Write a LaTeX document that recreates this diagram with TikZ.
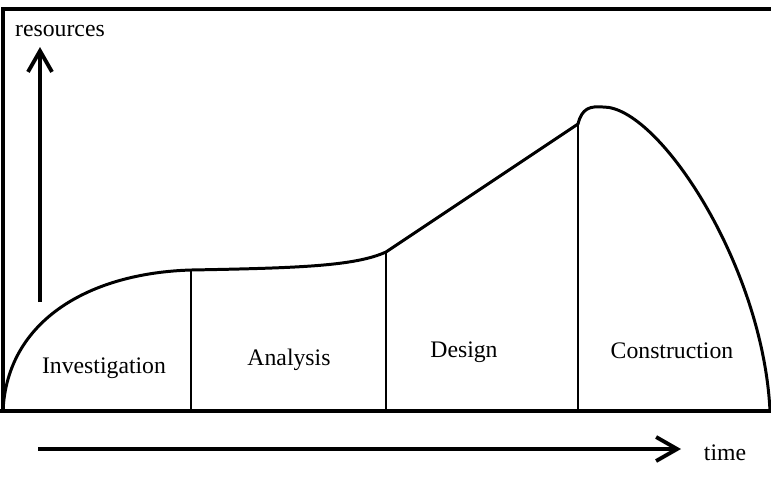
\documentclass[tikz,border=0pt]{standalone}
\usepackage{fontspec}
\setmainfont{Liberation Serif}
\usetikzlibrary{arrows.meta}

\tikzset{
  phase/.style={anchor=base, inner sep=0pt, font=\fontsize{13.5}{16}\selectfont},
  axis/.style={line width=2.2pt, -{Straight Barb[length=4.2mm, width=4.8mm]}},
  divider/.style={line width=1.4pt},
}

\begin{document}
\begin{tikzpicture}[x=0.2mm, y=-0.2mm]
    \useasboundingbox (0,0) rectangle (771,482);

    % Frame
    \draw[line width=2pt] (771,9) -- (3,9) -- (3,411);
    \draw[line width=2pt] (0,411) -- (771,411);

    % Points on the curve
    \coordinate (start) at (3,411);
    \coordinate (inv) at (191,270);
    \coordinate (ana) at (386,252);
    \coordinate (des) at (578,124);
    \coordinate (peak) at (603,107);
    \coordinate (finish) at (770,411);

    % Resource curve
    \draw[line width=1.7pt] (start) .. controls (7,320) and (90,273) .. (inv)
        .. controls (300,268) and (355,266) .. (ana) -- (des)
        .. controls (582,108) and (590,106) .. (peak)
        .. controls (658,106) and (763,265) .. (finish);

    % Phase dividers
    \draw[divider] (inv) -- (inv |- start);
    \draw[divider] (ana) -- (ana |- start);
    \draw[divider] (des) -- (des |- start);

    % Phase labels
    \node[phase] (investigation) at (104,373) {Investigation};
    \node[phase] (analysis) at (289,365) {Analysis};
    \node[phase] (design) at (464,357) {Design};
    \node[phase] (construction) at (672,358) {Construction};

    % Axes
    \coordinate (res0) at (40,302);
    \coordinate (res1) at (40,47);
    \draw[axis] (res0) -- (res1);
    \node[phase] (resources) at (60,36) {resources};

    \coordinate (time0) at (38,449);
    \coordinate (time1) at (681,449);
    \draw[axis] (time0) -- (time1);
    \node[phase] (time) at (725,460) {time};
\end{tikzpicture}
\end{document}
